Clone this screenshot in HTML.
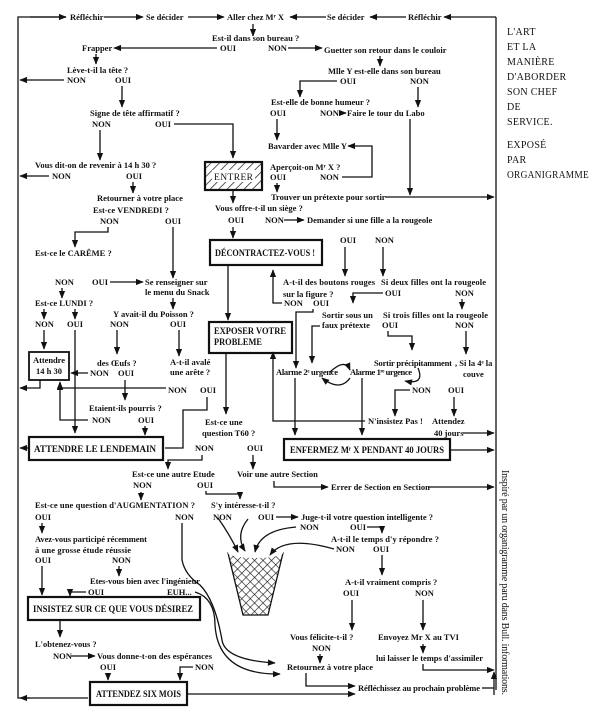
<!DOCTYPE html>
<html><head><meta charset="utf-8"><style>
html,body{margin:0;padding:0;background:#fff}
svg{display:block}
text{font-family:"Liberation Serif",serif;font-size:8.5px;fill:#111;font-weight:bold}
.t{font-weight:normal;font-size:10px;letter-spacing:0.3px}
.b{font-size:9.5px}
line,polyline,path{stroke:#111;stroke-width:1.3;fill:none}
.bx{fill:#fff;stroke:#111;stroke-width:2.2}
</style></head><body>
<svg width="600" height="716" viewBox="0 0 600 716" xmlns="http://www.w3.org/2000/svg">
<defs>
<marker id="a" viewBox="0 0 10 10" refX="9" refY="5" markerWidth="7" markerHeight="6" orient="auto-start-reverse"><path d="M0,1 L10,5 L0,9 z" style="fill:#111;stroke:none"/></marker>
<pattern id="h" width="6" height="6" patternUnits="userSpaceOnUse" patternTransform="rotate(45)"><line x1="0" y1="0" x2="0" y2="6" style="stroke:#111;stroke-width:1.4"/></pattern>
<pattern id="n" width="6" height="6" patternUnits="userSpaceOnUse" patternTransform="rotate(45)"><rect width="6" height="6" fill="#fff"/><path d="M0,0V6M0,0H6" style="stroke:#111;stroke-width:1.2"/></pattern>
</defs>
<rect width="600" height="716" fill="#fff"/>
<polyline points="66,17 18,17 18,698 30,698" />
<line x1="30" y1="17" x2="66" y2="17" marker-end="url(#a)"/>
<line x1="104" y1="17" x2="143" y2="17" marker-end="url(#a)"/>
<line x1="188" y1="17" x2="224" y2="17" marker-end="url(#a)"/>
<line x1="326" y1="17" x2="290" y2="17" marker-end="url(#a)"/>
<line x1="406" y1="17" x2="370" y2="17" marker-end="url(#a)"/>
<line x1="496" y1="17" x2="444" y2="17" marker-end="url(#a)"/>
<line x1="496" y1="17" x2="496" y2="690"/>
<line x1="88" y1="698" x2="20" y2="698" marker-end="url(#a)"/>
<text x="70" y="20">Réfléchir</text>
<text x="146" y="20">Se décider</text>
<text x="227" y="20">Aller chez Mʳ X</text>
<text x="327" y="20">Se décider</text>
<text x="408" y="20">Réfléchir</text>
<line x1="253" y1="24" x2="253" y2="36" marker-end="url(#a)"/>
<text x="212" y="41">Est-il dans son bureau  ?</text>
<text x="220" y="51">OUI</text><text x="268" y="51">NON</text>
<line x1="217" y1="48" x2="114" y2="48" marker-end="url(#a)"/>
<text x="82" y="51">Frapper</text>
<line x1="288" y1="48" x2="322" y2="48" marker-end="url(#a)"/>
<text x="324" y="53">Guetter son retour dans le couloir</text>
<line x1="380" y1="56" x2="380" y2="66" marker-end="url(#a)"/>
<line x1="96" y1="54" x2="96" y2="64" marker-end="url(#a)"/>
<text x="67" y="73">Lève-t-il la tête  ?</text>
<text x="67" y="83">NON</text><text x="115" y="83">OUI</text>
<line x1="64" y1="80" x2="20" y2="80" marker-end="url(#a)"/>
<line x1="122" y1="86" x2="122" y2="107" marker-end="url(#a)"/>
<text x="328" y="74">Mlle Y est-elle dans son bureau</text>
<text x="340" y="84">OUI</text><text x="410" y="84">NON</text>
<polyline points="337,81 300,81 300,97" marker-end="url(#a)"/>
<line x1="418" y1="87" x2="418" y2="107" marker-end="url(#a)"/>
<text x="271" y="105">Est-elle de bonne humeur ?</text>
<text x="270" y="116">OUI</text><text x="320" y="116">NON</text>
<line x1="339" y1="113" x2="346" y2="113" marker-end="url(#a)"/>
<text x="347" y="116">Faire le tour du Labo</text>
<line x1="410" y1="119" x2="410" y2="195" marker-end="url(#a)"/>
<line x1="277" y1="119" x2="277" y2="140" marker-end="url(#a)"/>
<text x="90" y="116">Signe de tête affirmatif ?</text>
<text x="92" y="127">NON</text><text x="155" y="127">OUI</text>
<polyline points="174,124 233,124 233,158" marker-end="url(#a)"/>
<line x1="100" y1="130" x2="100" y2="160" marker-end="url(#a)"/>
<text x="268" y="149">Bavarder avec Mlle Y</text>
<polyline points="342,177 372,177 372,146 348,146" marker-end="url(#a)"/>
<text x="35" y="168">Vous dit-on de revenir à 14 h 30 ?</text>
<text x="52" y="179">NON</text><text x="126" y="179">OUI</text>
<line x1="49" y1="176" x2="20" y2="176" marker-end="url(#a)"/>
<line x1="133" y1="182" x2="133" y2="193" marker-end="url(#a)"/>
<rect x="205" y="162" width="57" height="28" fill="url(#h)" stroke="#111" stroke-width="2.2"/>
<rect x="212" y="170" width="43" height="12" fill="#fff"/>
<text x="214" y="180" style="font-weight:normal;font-size:9.5px" textLength="39">ENTRER</text>
<text x="270" y="170">Aperçoit-on Mʳ X ?</text>
<text x="270" y="180">OUI</text><text x="320" y="180">NON</text>
<line x1="277" y1="183" x2="277" y2="192" marker-end="url(#a)"/>
<text x="271" y="200">Trouver un prétexte pour sortir</text>
<line x1="385" y1="197" x2="494" y2="197" marker-end="url(#a)"/>
<text x="97" y="201">Retourner à votre place</text>
<text x="93" y="213">Est-ce    VENDREDI  ?</text>
<text x="100" y="224">NON</text><text x="165" y="224">OUI</text>
<line x1="233" y1="190" x2="233" y2="203" marker-end="url(#a)"/>
<text x="215" y="211">Vous offre-t-il un siège ?</text>
<text x="228" y="223">OUI</text><text x="265" y="223">NON</text>
<line x1="284" y1="220" x2="304" y2="220" marker-end="url(#a)"/>
<text x="307" y="223">Demander si une fille a la rougeole</text>
<line x1="233" y1="227" x2="233" y2="238" marker-end="url(#a)"/>
<polyline points="108,227 108,232 75,232 75,247" marker-end="url(#a)"/>
<line x1="173" y1="227" x2="173" y2="278" marker-end="url(#a)"/>
<text x="35" y="256">Est-ce le CARÊME ?</text>
<rect class="bx" x="210" y="240" width="112" height="25"/>
<text x="215" y="256" class="b" textLength="100" lengthAdjust="spacingAndGlyphs">DÉCONTRACTEZ-VOUS !</text>
<text x="340" y="243">OUI</text><text x="375" y="243">NON</text>
<line x1="345" y1="247" x2="345" y2="276" marker-end="url(#a)"/>
<line x1="383" y1="247" x2="383" y2="276" marker-end="url(#a)"/>
<text x="55" y="285">NON</text><text x="92" y="285">OUI</text>
<line x1="110" y1="282" x2="143" y2="282" marker-end="url(#a)"/>
<text x="145" y="285">Se renseigner sur</text>
<text x="145" y="295">le menu du Snack</text>
<line x1="173" y1="298" x2="173" y2="309" marker-end="url(#a)"/>
<line x1="62" y1="288" x2="62" y2="298" marker-end="url(#a)"/>
<text x="35" y="306">Est-ce LUNDI ?</text>
<line x1="44" y1="309" x2="44" y2="319" marker-end="url(#a)"/>
<line x1="75" y1="309" x2="75" y2="319" marker-end="url(#a)"/>
<text x="283" y="285" textLength="92">A-t-il des boutons rouges</text>
<text x="283" y="297">sur  la  figure  ?</text>
<text x="284" y="306">NON</text><text x="313" y="306">OUI</text>
<polyline points="282,303 273,303 273,270" marker-end="url(#a)"/>
<text x="381" y="285" textLength="105">Si deux filles ont la rougeole</text>
<text x="385" y="296">OUI</text><text x="455" y="296">NON</text>
<polyline points="383,293 353,293 353,303" marker-end="url(#a)"/>
<line x1="462" y1="299" x2="462" y2="309" marker-end="url(#a)"/>
<text x="113" y="317">Y avait-il du Poisson ?</text>
<text x="110" y="327">NON</text><text x="170" y="327">OUI</text>
<text x="35" y="327">NON</text><text x="67" y="327">OUI</text>
<line x1="44" y1="330" x2="44" y2="349" marker-end="url(#a)"/>
<line x1="75" y1="330" x2="75" y2="433" marker-end="url(#a)"/>
<line x1="117" y1="330" x2="117" y2="354" marker-end="url(#a)"/>
<line x1="179" y1="330" x2="179" y2="356" marker-end="url(#a)"/>
<text x="322" y="318">Sortir sous un</text>
<text x="322" y="328">faux prétexte</text>
<text x="383" y="318" textLength="105">Si trois filles ont la rougeole</text>
<text x="382" y="328">OUI</text><text x="455" y="328">NON</text>
<polyline points="388,331 388,336 412,336 412,350" marker-end="url(#a)"/>
<line x1="466" y1="331" x2="466" y2="354" marker-end="url(#a)"/>
<polyline points="313,309 313,312 296,312 296,368" marker-end="url(#a)"/>
<polyline points="320,326 312,326 312,363" marker-end="url(#a)"/>
<rect class="bx" x="209" y="322" width="83" height="31"/>
<text x="214" y="334" class="b" textLength="72" lengthAdjust="spacingAndGlyphs">EXPOSER  VOTRE</text>
<text x="214" y="345" class="b" textLength="48" lengthAdjust="spacingAndGlyphs">PROBLEME</text>
<line x1="228" y1="265" x2="228" y2="320" marker-end="url(#a)"/>
<rect class="bx" x="29" y="352" width="40" height="28" style="stroke-width:1.8"/>
<text x="33" y="363" textLength="32">Attendre</text>
<text x="36" y="374">14 h 30</text>
<text x="97" y="366">des Œufs ?</text>
<text x="90" y="376">NON</text><text x="118" y="376">OUI</text>
<line x1="88" y1="373" x2="71" y2="373" marker-end="url(#a)"/>
<line x1="125" y1="380" x2="125" y2="400" marker-end="url(#a)"/>
<text x="170" y="365">A-t-il avalé</text>
<text x="170" y="375">une arête ?</text>
<polyline points="40,380 40,388 20,388" marker-end="url(#a)"/>
<polyline points="166,388 60,388 60,382" marker-end="url(#a)"/>
<text x="168" y="393">NON</text><text x="200" y="393">OUI</text>
<polyline points="207,397 207,410 183,410 183,448 165,448"/>
<polyline points="88,420 60,420 60,383" marker-end="url(#a)"/>
<text x="89" y="411">Etaient-ils pourris ?</text>
<text x="92" y="423">NON</text><text x="138" y="423">OUI</text>
<line x1="145" y1="426" x2="145" y2="435" marker-end="url(#a)"/>
<line x1="226" y1="353" x2="226" y2="414" marker-end="url(#a)"/>
<text x="205" y="425">Est-ce une</text>
<text x="202" y="436">question T60 ?</text>
<text x="276" y="375" textLength="62">Alarme 2ᵉ urgence</text>
<text x="350" y="375" textLength="62">Alarme 1ʳᵉ urgence</text>
<text x="374" y="366" textLength="78">Sortir précipitamment</text>
<text x="455" y="366">, Si la 4ᵉ la</text>
<text x="463" y="377">couve</text>
<path d="M330,372 Q345,358 350,370" marker-end="url(#a)"/>
<path d="M350,378 Q340,392 322,378" marker-end="url(#a)"/>
<path d="M418,368 Q425,385 405,381" marker-end="url(#a)"/>
<line x1="295" y1="378" x2="295" y2="435" marker-end="url(#a)"/>
<line x1="362" y1="378" x2="362" y2="435" marker-end="url(#a)"/>
<polyline points="365,421 273,421 273,352" marker-end="url(#a)"/>
<text x="412" y="393">NON</text><text x="448" y="393">OUI</text>
<polyline points="410,390 395,390 395,416" marker-end="url(#a)"/>
<line x1="454" y1="397" x2="454" y2="416" marker-end="url(#a)"/>
<text x="368" y="424">N'insistez Pas !</text>
<text x="432" y="424">Attendez</text>
<text x="434" y="436">40 jours</text>
<line x1="463" y1="433" x2="494" y2="433" marker-end="url(#a)"/>
<rect class="bx" x="29" y="437" width="134" height="23"/>
<text x="34" y="452" class="b" textLength="122" lengthAdjust="spacingAndGlyphs">ATTENDRE  LE  LENDEMAIN</text>
<line x1="29" y1="448" x2="20" y2="448" marker-end="url(#a)"/>
<rect class="bx" x="284" y="439" width="166" height="21"/>
<text x="290" y="453" class="b" textLength="154" lengthAdjust="spacingAndGlyphs">ENFERMEZ Mʳ X PENDANT 40 JOURS</text>
<line x1="450" y1="450" x2="494" y2="450" marker-end="url(#a)"/>
<text x="195" y="451">NON</text><text x="247" y="451">OUI</text>
<polyline points="202,455 202,460 168,460 168,469" marker-end="url(#a)"/>
<line x1="253" y1="455" x2="253" y2="469" marker-end="url(#a)"/>
<text x="132" y="477">Est-ce une autre Etude</text>
<text x="237" y="477">Voir une autre Section</text>
<polyline points="274,481 274,487 328,487" marker-end="url(#a)"/>
<text x="331" y="490">Errer de Section en Section</text>
<line x1="428" y1="487" x2="494" y2="487" marker-end="url(#a)"/>
<text x="133" y="488">NON</text><text x="197" y="488">OUI</text>
<polyline points="206,491 206,494 240,494 240,499" marker-end="url(#a)"/>
<line x1="141" y1="492" x2="141" y2="500" marker-end="url(#a)"/>
<text x="35" y="508" textLength="160">Est-ce une question d'AUGMENTATION ?</text>
<text x="211" y="508">S'y intéresse-t-il ?</text>
<text x="35" y="520">OUI</text><text x="175" y="520">NON</text><text x="213" y="520">NON</text><text x="258" y="520">OUI</text>
<line x1="276" y1="517" x2="298" y2="517" marker-end="url(#a)"/>
<text x="301" y="520" textLength="132">Juge-t-il votre question intelligente ?</text>
<text x="300" y="530">NON</text><text x="350" y="530">OUI</text>
<polyline points="367,527 382,527 382,533" marker-end="url(#a)"/>
<text x="331" y="542" textLength="108">A-t-il le temps d'y répondre ?</text>
<text x="336" y="552">NON</text><text x="373" y="552">OUI</text>
<line x1="382" y1="555" x2="382" y2="575" marker-end="url(#a)"/>
<line x1="42" y1="523" x2="42" y2="533" marker-end="url(#a)"/>
<text x="35" y="542" textLength="112">Avez-vous participé récemment</text>
<text x="35" y="553" textLength="96">à une grosse étude réussie</text>
<text x="35" y="563">OUI</text><text x="112" y="563">NON</text>
<line x1="42" y1="566" x2="42" y2="595" marker-end="url(#a)"/>
<line x1="119" y1="566" x2="119" y2="576" marker-end="url(#a)"/>
<text x="90" y="584" textLength="110">Etes-vous bien avec l'ingénieur</text>
<text x="88" y="595">OUI</text><text x="167" y="595">EUH...</text>
<polyline points="86,592 70,592 70,596" marker-end="url(#a)"/>
<path d="M228,553 L283,553 L268,615 L243,615 Z" style="fill:url(#n)"/>
<ellipse cx="255.5" cy="553" rx="27.5" ry="5" style="fill:#fff"/>
<path d="M218,518 Q230,535 238,552" marker-end="url(#a)"/>
<path d="M296,527 Q260,530 255,552" marker-end="url(#a)"/>
<path d="M334,549 Q285,535 270,555" marker-end="url(#a)"/>
<path d="M248,519 Q235,535 245,551" marker-end="url(#a)"/>
<path d="M182,523 L182,560 Q185,575 200,585 Q215,600 222,640 Q225,660 275,663" marker-end="url(#a)"/>
<path d="M195,592 Q215,598 215,625 Q218,675 280,674" marker-end="url(#a)"/>
<text x="345" y="585">A-t-il vraiment compris ?</text>
<text x="343" y="596">OUI</text><text x="415" y="596">NON</text>
<line x1="352" y1="600" x2="352" y2="630" marker-end="url(#a)"/>
<line x1="423" y1="600" x2="423" y2="630" marker-end="url(#a)"/>
<rect class="bx" x="28" y="597" width="172" height="23"/>
<text x="33" y="612" class="b" textLength="160" lengthAdjust="spacingAndGlyphs">INSISTEZ SUR CE QUE VOUS DÉSIREZ</text>
<line x1="60" y1="620" x2="60" y2="637" marker-end="url(#a)"/>
<text x="290" y="640">Vous félicite-t-il ?</text>
<text x="312" y="651">NON</text>
<line x1="320" y1="654" x2="320" y2="663" marker-end="url(#a)"/>
<text x="378" y="640">Envoyez Mr X au TVI</text>
<line x1="423" y1="644" x2="423" y2="653" marker-end="url(#a)"/>
<text x="376" y="661" textLength="107">lui laisser le temps d'assimiler</text>
<polyline points="423,664 423,670 494,670" marker-end="url(#a)"/>
<text x="35" y="647">L'obtenez-vous ?</text>
<text x="53" y="659">NON</text>
<line x1="71" y1="656" x2="95" y2="656" marker-end="url(#a)"/>
<text x="97" y="659" textLength="115">Vous donne-t-on des espérances</text>
<text x="100" y="670">OUI</text><text x="195" y="670">NON</text>
<line x1="108" y1="673" x2="108" y2="680" marker-end="url(#a)"/>
<polyline points="193,667 180,667 180,680" marker-end="url(#a)"/>
<text x="287" y="670">Retournez à votre place</text>
<polyline points="306,673 306,686 355,686" marker-end="url(#a)"/>
<text x="358" y="691" textLength="122">Réfléchissez au prochain problème</text>
<line x1="482" y1="688" x2="494" y2="688"/>
<line x1="494" y1="695" x2="494" y2="672" marker-end="url(#a)"/>
<rect class="bx" x="90" y="682" width="97" height="23"/>
<text x="96" y="697" class="b" textLength="85" lengthAdjust="spacingAndGlyphs">ATTENDEZ SIX MOIS</text>
<line x1="187" y1="694" x2="355" y2="694" marker-end="url(#a)"/>
<text class="t" x="507" y="35">L'ART</text>
<text class="t" x="507" y="50">ET LA</text>
<text class="t" x="507" y="65">MANIÈRE</text>
<text class="t" x="507" y="80">D'ABORDER</text>
<text class="t" x="507" y="95">SON CHEF</text>
<text class="t" x="507" y="110">DE</text>
<text class="t" x="507" y="125">SERVICE.</text>
<text class="t" x="507" y="148">EXPOSÉ</text>
<text class="t" x="507" y="163">PAR</text>
<text class="t" x="507" y="178" textLength="82" lengthAdjust="spacingAndGlyphs">ORGANIGRAMME</text>
<text transform="translate(502,470) rotate(90)" style="font-weight:normal;font-size:10px" textLength="225">Inspiré par un organigramme paru dans Bull. informations.</text>
</svg>
</body></html>
